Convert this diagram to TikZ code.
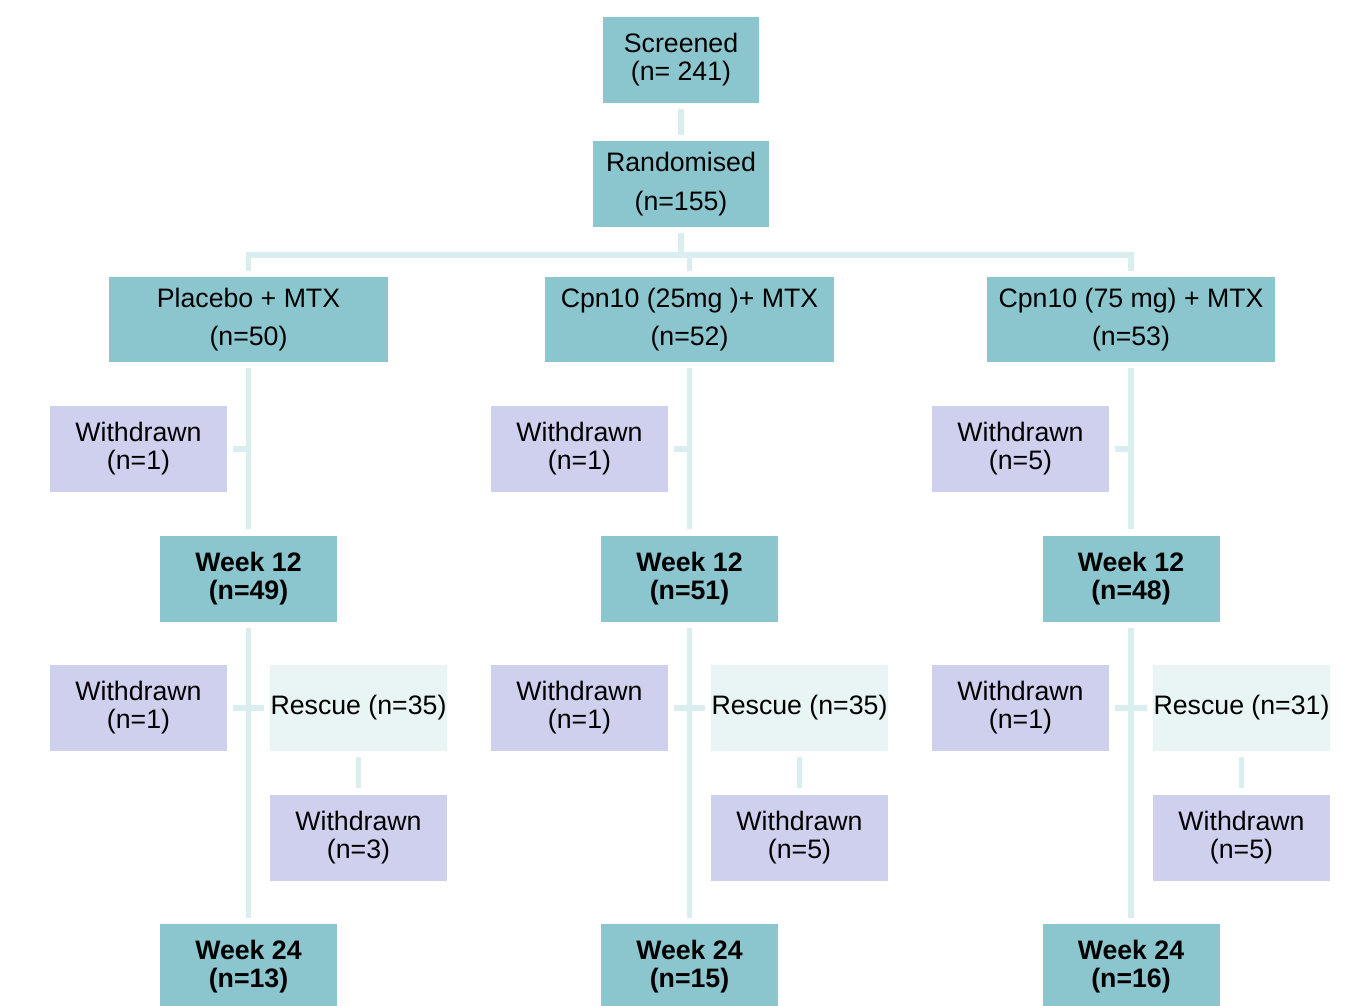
\documentclass[tikz,border=0pt]{standalone}
\usepackage{fontspec}
\setmainfont{Liberation Sans}
\definecolor{boxteal}{HTML}{8BC6CE}
\definecolor{boxlilac}{HTML}{CFCFEE}
\definecolor{boxpale}{HTML}{E8F5F4}
\definecolor{linkcol}{HTML}{DAEEEF}

\begin{document}
\begin{tikzpicture}[x=0.02cm,y=-0.02cm,
		every node/.style={font=\fontsize{15.2}{16}\selectfont,align=center,inner sep=0pt},
		stage/.style={fill=boxteal,minimum width=3.54cm,minimum height=1.72cm},
		arm/.style={fill=boxteal,minimum width=5.78cm,minimum height=1.70cm},
		week/.style={stage,font=\fontsize{15.2}{16}\selectfont\bfseries},
		wd/.style={fill=boxlilac,minimum width=3.54cm,minimum height=1.72cm},
		rescue/.style={fill=boxpale,minimum width=3.54cm,minimum height=1.72cm},
		link/.style={draw=linkcol,line width=0.11cm,shorten <=0.12cm,shorten >=0.12cm}]
		\useasboundingbox (0,0) rectangle (1354,1005);
		% top of the chart
		\node[stage,minimum width=3.12cm](scr) at (681,60) {Screened\\(n= 241)};
		\node[stage,minimum width=3.52cm](rand) at (681,184) {Randomised\\[6pt](n=155)};
		\coordinate (bar) at (681,255);
		% the three arms
		\node[arm,minimum width=5.58cm](plac) at (248.5,319.5) {Placebo + MTX\\[6pt](n=50)};
		\node[arm](cpnlo) at (689.5,319.5) {Cpn10 (25mg )+ MTX\\[6pt](n=52)};
		\node[arm](cpnhi) at (1131,319.5) {Cpn10 (75 mg) + MTX\\[6pt](n=53)};
		% placebo column
		\node[wd](wda) at (138.5,449) {Withdrawn\\(n=1)};
		\node[week](wkxiia) at (248.5,578.5) {Week 12\\(n=49)};
		\node[wd](wdba) at (138.5,708) {Withdrawn\\(n=1)};
		\node[rescue](resa) at (358.5,708) {Rescue (n=35)};
		\node[wd](wdca) at (358.5,837.5) {Withdrawn\\(n=3)};
		\node[week](wkxxiva) at (248.5,967) {Week 24\\(n=13)};
		% cpn10 25mg column
		\node[wd](wdb) at (579.5,449) {Withdrawn\\(n=1)};
		\node[week](wkxiib) at (689.5,578.5) {Week 12\\(n=51)};
		\node[wd](wdbb) at (579.5,708) {Withdrawn\\(n=1)};
		\node[rescue](resb) at (799.5,708) {Rescue (n=35)};
		\node[wd](wdcb) at (799.5,837.5) {Withdrawn\\(n=5)};
		\node[week](wkxxivb) at (689.5,967) {Week 24\\(n=15)};
		% cpn10 75mg column
		\node[wd](wdc) at (1020.5,449) {Withdrawn\\(n=5)};
		\node[week](wkxiic) at (1131,578.5) {Week 12\\(n=48)};
		\node[wd](wdbc) at (1020.5,708) {Withdrawn\\(n=1)};
		\node[rescue](resc) at (1241.5,708) {Rescue (n=31)};
		\node[wd](wdcc) at (1241.5,837.5) {Withdrawn\\(n=5)};
		\node[week](wkxxivc) at (1131,967) {Week 24\\(n=16)};
		% connectors
		\draw[link] (scr)--(rand);
		\draw[link,shorten >=0pt] (rand)--(bar);
		\draw[link] (plac) |- (bar) -| (cpnhi);
		\draw[link,shorten <=0pt] (bar -| cpnlo)--(cpnlo);
		\draw[link] (plac)--(wkxiia);
		\draw[link] (cpnlo)--(wkxiib);
		\draw[link] (cpnhi)--(wkxiic);
		\draw[link,shorten >=0pt] (wda)--(wda -| plac);
		\draw[link,shorten >=0pt] (wdb)--(wdb -| cpnlo);
		\draw[link,shorten >=0pt] (wdc)--(wdc -| cpnhi);
		\draw[link] (wkxiia)--(wkxxiva);
		\draw[link] (wkxiib)--(wkxxivb);
		\draw[link] (wkxiic)--(wkxxivc);
		\draw[link] (wdba)--(resa);
		\draw[link] (wdbb)--(resb);
		\draw[link] (wdbc)--(resc);
		\draw[link] (resa)--(wdca);
		\draw[link] (resb)--(wdcb);
		\draw[link] (resc)--(wdcc);
	\end{tikzpicture}
\end{document}
